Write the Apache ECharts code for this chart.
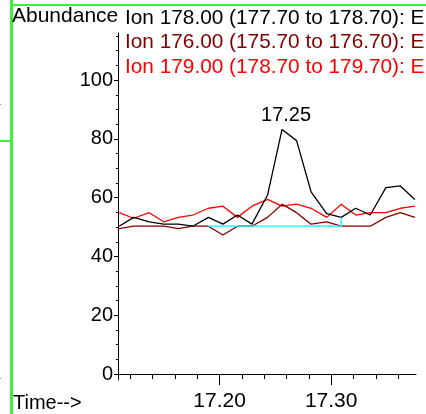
<!DOCTYPE html>
<html>
<head>
<meta charset="utf-8">
<script src="https://cdn.jsdelivr.net/npm/echarts@6/dist/echarts.min.js"></script>
<style>
    html, body { margin: 0; padding: 0; background: #fff; }
    #container { width: 426px; height: 414px; }
</style>
</head>
<body>
<div id="container"></div>
<script>
var times = [17.110, 17.123, 17.137, 17.150, 17.163, 17.176, 17.190, 17.203, 17.216, 17.229,
    17.243, 17.256, 17.269, 17.282, 17.296, 17.309, 17.322, 17.335, 17.349, 17.362, 17.375];
var ion178 = [50.3, 53.3, 51.8, 51.0, 51.0, 50.3, 53.3, 51.0, 54.1, 51.0,
    60.9, 83.2, 79.4, 62.0, 54.6, 53.3, 56.4, 54.1, 63.4, 64.0, 59.4];
var ion176 = [49.5, 50.3, 50.3, 50.3, 49.5, 50.3, 50.3, 47.3, 50.3, 50.3,
    53.3, 57.8, 54.9, 51.0, 51.8, 50.3, 50.3, 50.3, 53.3, 54.9, 53.3];
var ion179 = [54.9, 53.0, 54.9, 51.8, 53.3, 54.1, 56.4, 57.1, 53.3, 57.1,
    59.4, 57.1, 57.8, 56.4, 53.3, 57.8, 54.1, 54.9, 54.9, 56.4, 57.1];
var baseTimes = [17.190, 17.309, 17.309];
var baseValues = [50.3, 50.3, 53.3];
var peakIndex = 11;
var peakText = '17.25';
var ionNames = [
    'Ion 178.00 (177.70 to 178.70): E',
    'Ion 176.00 (175.70 to 176.70): E',
    'Ion 179.00 (178.70 to 179.70): E'
];
var xTicks = [17.20, 17.30];
var yTicks = [0, 20, 40, 60, 80, 100];

var font = "'Liberation Sans', Arial, sans-serif";
var myChart = echarts.init(document.getElementById('container'));

function pairs(xs, ys) {
    return xs.map(function (x, i) { return [x, ys[i]]; });
}

var green = '#3cef3c';

option = {
    animation: false,
    grid: { left: 118, top: 33, right: 10, bottom: 34 },
    xAxis: {
        type: 'value',
        min: 17.109,
        max: 17.376,
        splitNumber: 3,
        splitLine: { show: false },
        axisLine: { lineStyle: { color: '#000', width: 1 } },
        axisTick: { length: 11, customValues: xTicks, lineStyle: { color: '#000' } },
        minorTick: { show: true, splitNumber: 5, length: 5, lineStyle: { color: '#000' } },
        axisLabel: {
            customValues: xTicks,
            formatter: function (v) { return v.toFixed(2); },
            color: '#000',
            fontSize: 21,
            fontFamily: font,
            margin: 11
        }
    },
    yAxis: {
        type: 'value',
        min: -2,
        max: 116,
        splitNumber: 5,
        splitLine: { show: false },
        axisLine: { show: true, lineStyle: { color: '#000', width: 1 } },
        axisTick: { show: true, length: 4, customValues: yTicks, lineStyle: { color: '#000' } },
        minorTick: { show: true, splitNumber: 4, length: 2, lineStyle: { color: '#000' } },
        axisLabel: {
            customValues: yTicks,
            color: '#000',
            fontSize: 20,
            fontFamily: font,
            margin: 5
        }
    },
    series: [
        {
            name: ionNames[2], type: 'line', data: pairs(times, ion179),
            symbol: 'none', lineStyle: { color: '#ff0000', width: 1.3 }
        },
        {
            name: ionNames[1], type: 'line', data: pairs(times, ion176),
            symbol: 'none', lineStyle: { color: '#800000', width: 1.3 }
        },
        {
            name: ionNames[0], type: 'line', data: pairs(times, ion178),
            symbol: 'none', lineStyle: { color: '#000', width: 1.3 },
            markPoint: {
                symbol: 'circle',
                symbolSize: 1,
                itemStyle: { color: 'rgba(0,0,0,0)' },
                label: {
                    show: true,
                    position: 'top',
                    distance: 3,
                    offset: [4, 0],
                    formatter: peakText,
                    color: '#000',
                    fontSize: 20,
                    fontFamily: font
                },
                data: [{ coord: [times[peakIndex], ion178[peakIndex]] }]
            }
        },
        {
            name: 'baseline', type: 'line', data: pairs(baseTimes, baseValues),
            symbol: 'none', lineStyle: { color: '#00ffff', width: 1.3 }
        }
    ],
    graphic: [
        { type: 'rect', shape: { x: 10, y: 0, width: 3, height: 414 }, style: { fill: green } },
        { type: 'rect', shape: { x: 12, y: 4, width: 414, height: 2 }, style: { fill: green } },
        { type: 'rect', shape: { x: 0, y: 140, width: 11, height: 2 }, style: { fill: green } },
        { type: 'rect', shape: { x: 0, y: 104, width: 1, height: 1 }, style: { fill: '#999' } },
        { type: 'rect', shape: { x: 0, y: 378, width: 1, height: 1 }, style: { fill: '#999' } },
        { type: 'text', left: 12, top: 6, style: { text: 'Abundance', fill: '#000', font: '21px ' + font } },
        { type: 'text', left: 125, top: 8, style: { text: ionNames[0], fill: '#000', font: '20.8px ' + font } },
        { type: 'text', left: 125, top: 32, style: { text: ionNames[1], fill: '#800000', font: '20.8px ' + font } },
        { type: 'text', left: 125, top: 57, style: { text: ionNames[2], fill: '#ff0000', font: '20.8px ' + font } },
        { type: 'text', left: 13, top: 393, style: { text: 'Time-->', fill: '#000', font: '20px ' + font } }
    ]
};
myChart.setOption(option);
</script>
</body>
</html>
